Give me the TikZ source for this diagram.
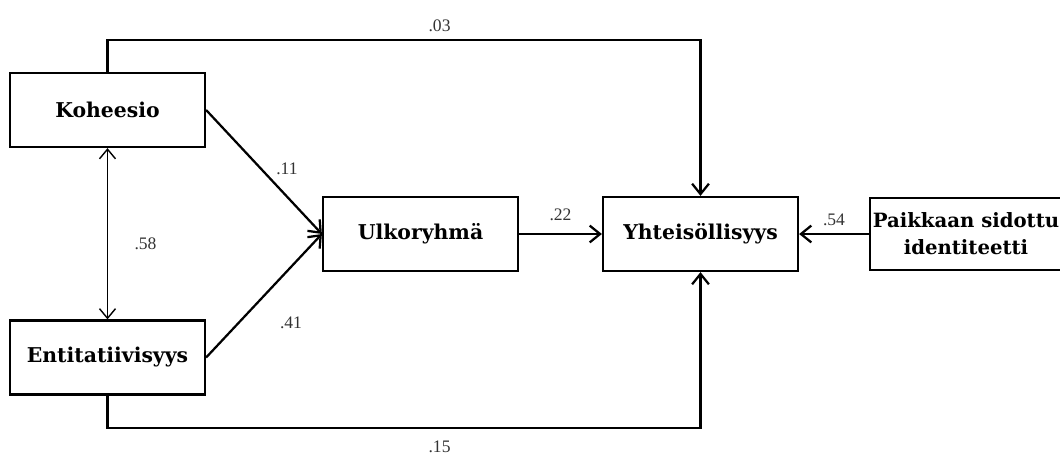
\documentclass[tikz,border=0pt]{standalone}
\usepackage{fontspec}
\setmainfont{Liberation Serif}
\newfontfamily\boxfont{DejaVu Serif}
\usetikzlibrary{arrows.meta}
\tikzstyle{block} = [rectangle, draw, line width=1.6pt, minimum width=4.875cm,
  minimum height=1.85cm, inner sep=1pt, font=\boxfont\bfseries\fontsize{14.5}{19}\selectfont, align=center]
\tikzstyle{line} = [draw, line width=1.6pt, -{Straight Barb[length=2.6mm, width=4.2mm]}]
\tikzstyle{coef} = [text=black!80, font=\fontsize{12.5}{14}\selectfont]

\begin{document}
\begin{tikzpicture}
  \useasboundingbox (0,0) rectangle (26.5,-11.425);

  \node [block] (koheesio) at (2.6875,-2.75) {Koheesio};
  \node [block] (entit) at (2.6875,-8.9375) {Entitatiivisyys};
  \node [block] (ulko) at (10.5125,-5.85) {Ulkoryhmä};
  \node [block] (yhteis) at (17.5125,-5.85) {Yhteisöllisyys};
  \node [block, minimum width=4.8cm, minimum height=1.8cm, font=\boxfont\bfseries\fontsize{14}{19}\selectfont] (paikka) at (24.15,-5.85) {Paikkaan sidottu\\identiteetti};

  \coordinate (topc) at (17.5125,-1.0);
  \coordinate (botc) at (17.5125,-10.7);

  \path [line] (koheesio.north) |- (topc) node [coef, pos=0.78, above=2pt] {.03} -- (yhteis.north);
  \path [line] (entit.south) |- (botc) node [coef, pos=0.78, below=5pt] {.15} -- (yhteis.south);
  \path [line] (koheesio.east) -- (ulko.west) node [coef, midway, xshift=0.575cm, yshift=0.075cm] {.11};
  \path [line] (entit.east) -- (ulko.west) node [coef, midway, xshift=0.675cm, yshift=-0.675cm] {.41};
  \path [draw, line width=1pt, {Straight Barb[length=2.4mm, width=4mm]}-{Straight Barb[length=2.4mm, width=4mm]}]
    (koheesio.south) -- (entit.north) node [coef, midway, xshift=0.95cm, yshift=-0.26cm] {.58};
  \path [line] (ulko.east) -- (yhteis.west) node [coef, midway, yshift=0.475cm] {.22};
  \path [line] (paikka.west) -- (yhteis.east) node [coef, midway, yshift=0.35cm] {.54};

\end{tikzpicture}
\end{document}
